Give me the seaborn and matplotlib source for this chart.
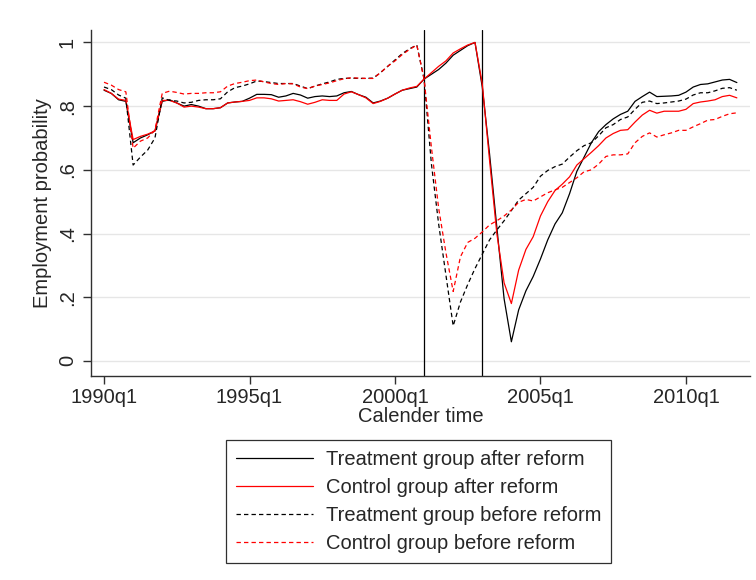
"""
Employment probability by calendar time, treatment vs control, before/after reform
"""
import numpy as np
import pandas as pd
import matplotlib
matplotlib.use("Agg")
import matplotlib.pyplot as plt
import seaborn as sns

# quarterly series, 1990q1 .. 2011q4
start_quarter = "1990Q1"

treat_after = [
    0.850, 0.840, 0.820, 0.815, 0.685, 0.700, 0.710, 0.722, 0.815, 0.820,
    0.810, 0.800, 0.805, 0.800, 0.792, 0.792, 0.795, 0.810, 0.813, 0.815,
    0.825, 0.837, 0.837, 0.836, 0.828, 0.832, 0.840, 0.835, 0.825, 0.830,
    0.832, 0.830, 0.832, 0.842, 0.846, 0.836, 0.828, 0.810, 0.816, 0.825,
    0.838, 0.850, 0.855, 0.860, 0.885, 0.900, 0.915, 0.935, 0.960, 0.975,
    0.990, 1.000, 0.860, 0.650, 0.420, 0.195, 0.060, 0.160, 0.220, 0.265,
    0.320, 0.380, 0.430, 0.465, 0.525, 0.595, 0.640, 0.685, 0.720, 0.742,
    0.760, 0.774, 0.784, 0.815, 0.830, 0.844, 0.830, 0.831, 0.832, 0.834,
    0.844, 0.860, 0.868, 0.870, 0.876, 0.882, 0.884, 0.874,
]

control_after = [
    0.852, 0.840, 0.822, 0.818, 0.695, 0.705, 0.712, 0.722, 0.818, 0.818,
    0.810, 0.797, 0.800, 0.797, 0.792, 0.792, 0.795, 0.810, 0.813, 0.815,
    0.818, 0.826, 0.826, 0.823, 0.816, 0.818, 0.820, 0.814, 0.806, 0.812,
    0.820, 0.818, 0.818, 0.838, 0.845, 0.836, 0.826, 0.808, 0.815, 0.825,
    0.838, 0.850, 0.857, 0.862, 0.885, 0.905, 0.925, 0.942, 0.967, 0.980,
    0.992, 1.000, 0.870, 0.630, 0.400, 0.245, 0.180, 0.285, 0.350, 0.390,
    0.455, 0.500, 0.535, 0.555, 0.578, 0.615, 0.635, 0.655, 0.676, 0.700,
    0.714, 0.724, 0.726, 0.750, 0.772, 0.787, 0.778, 0.784, 0.784, 0.784,
    0.790, 0.808, 0.813, 0.816, 0.820, 0.830, 0.834, 0.826,
]

treat_before = [
    0.860, 0.852, 0.835, 0.825, 0.615, 0.640, 0.662, 0.700, 0.826, 0.818,
    0.816, 0.810, 0.812, 0.818, 0.820, 0.820, 0.823, 0.845, 0.858, 0.863,
    0.870, 0.879, 0.877, 0.874, 0.871, 0.871, 0.871, 0.863, 0.855, 0.863,
    0.870, 0.876, 0.884, 0.887, 0.888, 0.887, 0.887, 0.888, 0.905, 0.925,
    0.945, 0.965, 0.980, 0.992, 0.885, 0.620, 0.430, 0.270, 0.110, 0.185,
    0.240, 0.290, 0.335, 0.380, 0.411, 0.440, 0.472, 0.505, 0.525, 0.545,
    0.580, 0.598, 0.610, 0.618, 0.640, 0.660, 0.676, 0.685, 0.707, 0.732,
    0.742, 0.758, 0.766, 0.790, 0.812, 0.816, 0.808, 0.810, 0.813, 0.816,
    0.822, 0.835, 0.842, 0.842, 0.848, 0.856, 0.858, 0.850,
]

control_before = [
    0.875, 0.866, 0.852, 0.845, 0.668, 0.690, 0.700, 0.725, 0.840, 0.847,
    0.843, 0.838, 0.840, 0.840, 0.842, 0.842, 0.845, 0.863, 0.871, 0.875,
    0.880, 0.882, 0.876, 0.871, 0.868, 0.871, 0.870, 0.860, 0.855, 0.863,
    0.868, 0.873, 0.880, 0.886, 0.889, 0.888, 0.887, 0.887, 0.905, 0.925,
    0.942, 0.962, 0.978, 0.992, 0.885, 0.672, 0.480, 0.340, 0.218, 0.327,
    0.372, 0.385, 0.405, 0.427, 0.440, 0.455, 0.474, 0.498, 0.507, 0.502,
    0.515, 0.528, 0.537, 0.545, 0.560, 0.575, 0.594, 0.600, 0.618, 0.642,
    0.647, 0.647, 0.650, 0.685, 0.705, 0.716, 0.703, 0.710, 0.716, 0.724,
    0.724, 0.735, 0.745, 0.756, 0.758, 0.768, 0.776, 0.779,
]

series_labels = [
    "Treatment group after reform",
    "Control group after reform",
    "Treatment group before reform",
    "Control group before reform",
]
reform_lines = ["2001Q1", "2003Q1"]
tick_quarters = ["1990Q1", "1995Q1", "2000Q1", "2005Q1", "2010Q1"]
y_ticks = [0, 0.2, 0.4, 0.6, 0.8, 1.0]
y_tick_labels = ["0", ".2", ".4", ".6", ".8", "1"]


def quarter_index(q):
    """Quarters elapsed since start_quarter"""
    return (pd.Period(q, freq="Q") - pd.Period(start_quarter, freq="Q")).n


def main():
    all_series = [treat_after, control_after, treat_before, control_before]
    frames = []
    for label, vals in zip(series_labels, all_series):
        frames.append(pd.DataFrame({
            "t": np.arange(len(vals)),
            "prob": vals,
            "series": label,
        }))
    df = pd.concat(frames, ignore_index=True)

    sns.set_style("white")
    plt.rcParams["font.family"] = ["Liberation Sans", "DejaVu Sans"]
    plt.rcParams["font.size"] = 14.5

    fig, ax = plt.subplots(figsize=(7.56, 5.8), dpi=100)
    fig.subplots_adjust(left=0.12, right=0.992, bottom=0.352, top=0.948)

    palette = dict(zip(series_labels, ["black", "#ff0000", "black", "#ff0000"]))
    dashes = dict(zip(series_labels, ["", "", (3.5, 2.5), (3.5, 2.5)]))

    sns.lineplot(
        data=df, x="t", y="prob", hue="series", style="series",
        hue_order=series_labels, style_order=series_labels,
        palette=palette, dashes=dashes, linewidth=0.9, ax=ax,
    )

    for q in reform_lines:
        ax.axvline(quarter_index(q), color="black", linewidth=0.9, zorder=1)

    # stata-like axes
    ax.set_xlim(-1.83, 88.8)
    ax.set_ylim(-0.047, 1.0386)
    ax.set_yticks(y_ticks)
    ax.set_yticklabels(y_tick_labels, rotation=90, va="center")
    ax.set_xticks([quarter_index(q) for q in tick_quarters])
    ax.set_xticklabels([q.replace("Q", "q") for q in tick_quarters])
    ax.yaxis.grid(True, color="#e6e6e6", linewidth=1.0)
    ax.set_axisbelow(True)
    for side in ["top", "right"]:
        ax.spines[side].set_visible(False)
    for side in ["left", "bottom"]:
        ax.spines[side].set_color("#303030")
        ax.spines[side].set_linewidth(1.0)
    ax.tick_params(axis="both", direction="out", length=6, width=1.0,
                   color="#303030", bottom=True, left=True)
    ax.tick_params(axis="y", pad=4)
    ax.tick_params(axis="x", pad=3)

    ax.set_xlabel("Calender time", labelpad=0)
    ax.set_ylabel("Employment probability", labelpad=4)

    handles, labels = ax.get_legend_handles_labels()
    ax.get_legend().remove()
    leg = fig.legend(
        handles, labels, loc="upper center", bbox_to_anchor=(0.5536, 0.2414),
        borderaxespad=0, frameon=True, fancybox=False, framealpha=1,
        handlelength=3.85, handletextpad=0.6, labelspacing=0.45,
        borderpad=0.5, fontsize=14.5,
    )
    leg.get_frame().set_edgecolor("#303030")
    leg.get_frame().set_linewidth(0.9)

    fig.savefig("out.png", dpi=100)


if __name__ == "__main__":
    main()
